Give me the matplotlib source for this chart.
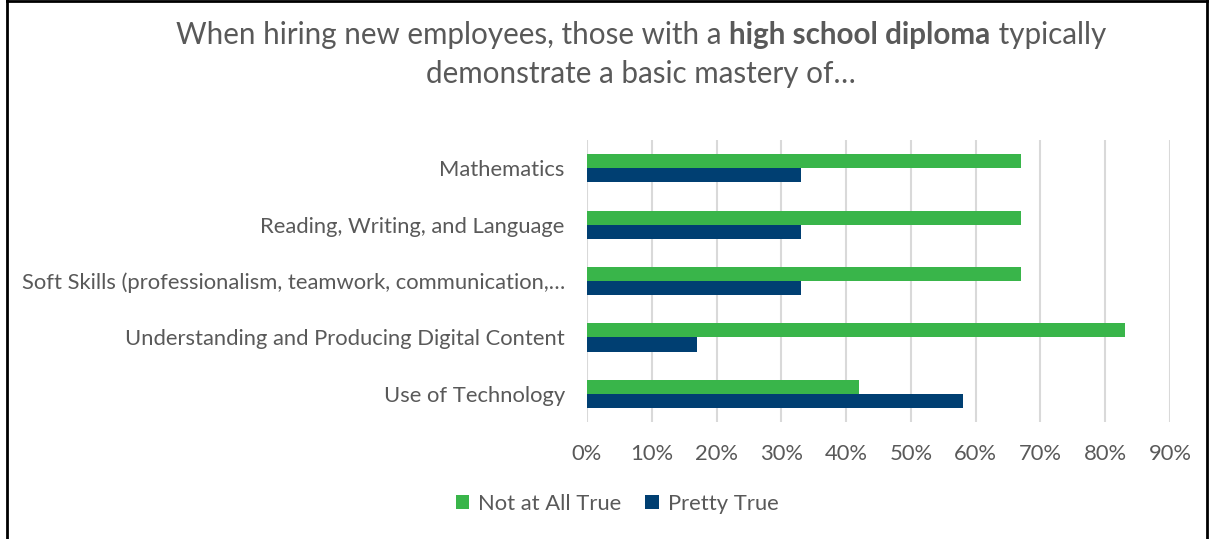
import matplotlib
matplotlib.use("Agg")
import matplotlib.pyplot as plt
import numpy as np
from matplotlib.ticker import PercentFormatter

categories = ["Mathematics", "Reading, Writing, and Language",
              "Soft Skills (professionalism, teamwork, communication,\u2026",
              "Understanding and Producing Digital Content", "Use of Technology"]
not_at_all_true = [0.67, 0.67, 0.67, 0.83, 0.42]
pretty_true = [0.33, 0.33, 0.33, 0.17, 0.58]
series_names = ["Not at All True", "Pretty True"]
xticks = [0, 0.1, 0.2, 0.3, 0.4, 0.5, 0.6, 0.7, 0.8, 0.9]

GREEN = "#39B54A"
NAVY = "#003F72"
GRAY = "#595959"
FONT = "Lato"

W, H = 1210, 539
fig = plt.figure(figsize=(W / 100, H / 100), dpi=100)
ax = fig.add_axes([587 / W, 1 - 422 / H, (1170 - 587) / W, (422 - 140) / H])

y = np.arange(len(categories))
bh = 0.25
ax.barh(y - bh / 2, not_at_all_true, height=bh, color=GREEN, label=series_names[0])
ax.barh(y + bh / 2, pretty_true, height=bh, color=NAVY, label=series_names[1])
ax.set_ylim(len(categories) - 0.5, -0.5)
ax.set_xlim(0, 0.9)
ax.set_xticks(xticks)
ax.xaxis.set_major_formatter(PercentFormatter(1.0, decimals=0))
ax.set_yticks(y)
ax.set_yticklabels(categories)
for lab in ax.get_yticklabels():
    lab.set_y(lab.get_position()[1])
for s in ax.spines.values():
    s.set_visible(False)
ax.grid(axis="x", color="#D9D9D9", linewidth=1.5)
ax.set_axisbelow(True)
ax.tick_params(axis="both", length=0, labelcolor=GRAY, labelsize=15.8)
ax.tick_params(axis="y", pad=16)
ax.tick_params(axis="x", pad=16)
for lab in ax.get_xticklabels() + ax.get_yticklabels():
    lab.set_fontfamily(FONT)

leg = fig.legend(loc="center", bbox_to_anchor=(617 / W, 1 - 504 / H), ncol=2, frameon=False,
                 prop={"family": FONT, "size": 15.8}, handlelength=0.62, handleheight=0.62,
                 columnspacing=1.1, handletextpad=0.4)
for t in leg.get_texts():
    t.set_color(GRAY)

# title with bold part
fig.canvas.draw()
r = fig.canvas.get_renderer()
tsize = 21.3
parts = [("When hiring new employees, those with a ", "normal"),
         ("high school diploma", "bold"),
         (" typically", "normal")]
texts = []
widths = []
for s, w in parts:
    t = fig.text(0, 1 - 35 / H, s, fontsize=tsize, fontweight=w, family=FONT, color=GRAY,
                 va="center", ha="left")
    texts.append(t)
    widths.append(t.get_window_extent(r).width)
total = sum(widths)
x0 = 641 - total / 2
for t, wd in zip(texts, widths):
    t.set_x(x0 / W)
    x0 += wd
fig.text(641 / W, 1 - 74 / H, "demonstrate a basic mastery of\u2026", fontsize=tsize, family=FONT,
         color=GRAY, ha="center", va="center")

# border
fig.add_artist(plt.Line2D([7 / W, 7 / W], [0, 1], color="black", lw=2, transform=fig.transFigure))
fig.add_artist(plt.Line2D([1207 / W, 1207 / W], [0, 1], color="black", lw=2, transform=fig.transFigure))
fig.add_artist(plt.Line2D([7 / W, 1207 / W], [1 - 1 / H, 1 - 1 / H], color="black", lw=2, transform=fig.transFigure))

fig.savefig("out.png", dpi=100, facecolor="white")
